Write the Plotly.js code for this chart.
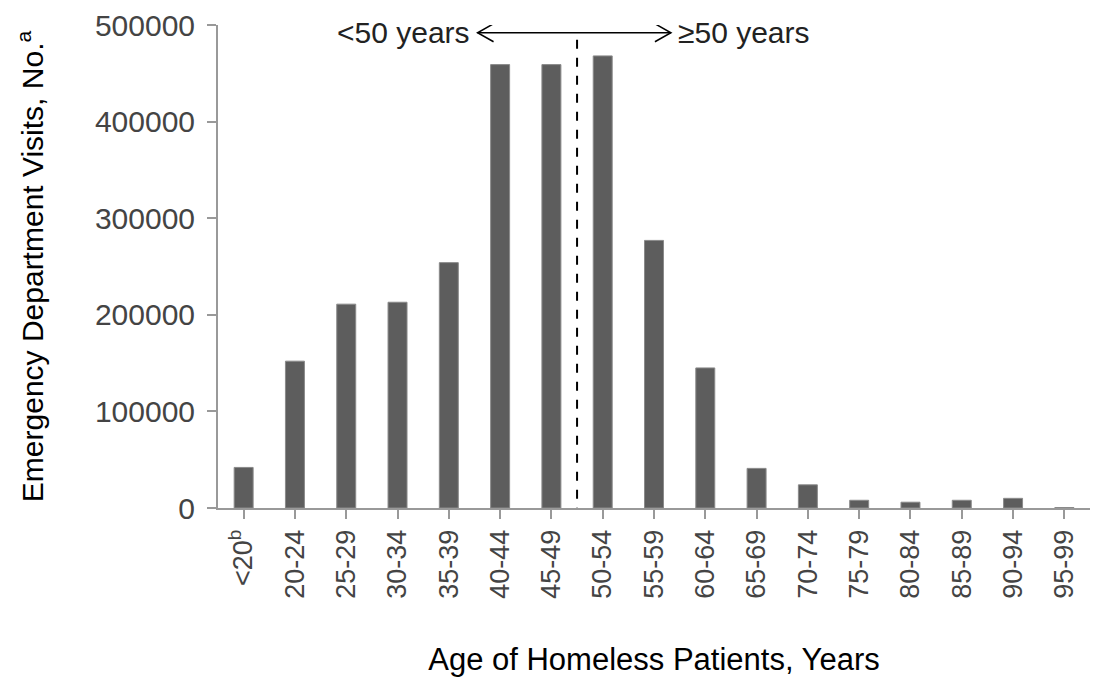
<!DOCTYPE html>
<html>
<head>
<meta charset="utf-8">
<script src="https://cdn.plot.ly/plotly-3.0.1.min.js"></script>
<style>html,body{margin:0;padding:0;background:#fff;}#chart{width:1093px;height:677px;}</style>
</head>
<body>
<div id="chart"></div>
<script>
const categories = ["<20", "20-24", "25-29", "30-34", "35-39", "40-44", "45-49", "50-54", "55-59", "60-64", "65-69", "70-74", "75-79", "80-84", "85-89", "90-94", "95-99"];
const tickLabels = ["<20<sup>b</sup>", "20-24", "25-29", "30-34", "35-39", "40-44", "45-49", "50-54", "55-59", "60-64", "65-69", "70-74", "75-79", "80-84", "85-89", "90-94", "95-99"];
const visits = [42000, 152000, 211000, 213000, 254000, 459000, 459000, 468000, 277000, 145000, 41000, 24000, 8000, 6000, 8000, 10000, 500];
const yTicks = [0, 100000, 200000, 300000, 400000, 500000];

const font = "Liberation Sans, Arial, sans-serif";
const splitIndex = 6.5;   // boundary between 45-49 and 50-54
const arrowY = 492000;
const arrowLeft = 4.56, arrowRight = 8.33;

const trace = {
  type: "bar",
  x: categories.map((c, i) => i),
  y: visits,
  marker: {color: "#5d5d5d", line: {color: "#8a8a8a", width: 1}},
  width: 0.37,
  hoverinfo: "x+y"
};

const layout = {
  width: 1093, height: 677,
  margin: {l: 218, r: 3, t: 25, b: 169},
  paper_bgcolor: "#fff", plot_bgcolor: "#fff",
  showlegend: false,
  font: {family: font, color: "#000"},
  xaxis: {
    range: [-0.5, 16.5],
    tickmode: "array",
    tickvals: categories.map((c, i) => i),
    ticktext: tickLabels,
    tickangle: -90,
    tickson: "boundaries",
    ticks: "outside", ticklen: 9, tickwidth: 2, tickcolor: "#999",
    showline: true, linecolor: "#999", linewidth: 2,
    showgrid: false, zeroline: false,
    tickfont: {family: font, size: 27, color: "#444"},
    title: {text: "Age of Homeless Patients, Years", font: {family: font, size: 31, color: "#000"}, standoff: 50}
  },
  yaxis: {
    range: [0, 500000],
    tickmode: "array",
    tickvals: yTicks,
    ticktext: yTicks.map(String),
    ticks: "outside", ticklen: 9, tickwidth: 2, tickcolor: "#999",
    showline: true, linecolor: "#999", linewidth: 2,
    showgrid: false, zeroline: false,
    tickfont: {family: font, size: 30, color: "#444"},
    ticklabelstandoff: 6,
    title: {text: "Emergency Department Visits, No.<sup>a</sup>", font: {family: font, size: 30, color: "#000"}, standoff: 42}
  },
  shapes: [
    {type: "line", xref: "x", yref: "y",
     x0: splitIndex, x1: splitIndex, y0: -9000, y1: arrowY,
     line: {color: "#000", width: 2, dash: "dash"}},
    {type: "line", xref: "x", yref: "y",
     x0: arrowLeft, x1: arrowRight, y0: arrowY, y1: arrowY,
     line: {color: "#000", width: 1.5}},
    {type: "path", xref: "x", yref: "y", xsizemode: "pixel", ysizemode: "pixel",
     xanchor: arrowLeft, yanchor: arrowY, path: "M 16 -9 L 0 0 L 16 9",
     line: {color: "#000", width: 1.5}},
    {type: "path", xref: "x", yref: "y", xsizemode: "pixel", ysizemode: "pixel",
     xanchor: arrowRight, yanchor: arrowY, path: "M -16 -9 L 0 0 L -16 9",
     line: {color: "#000", width: 1.5}}
  ],
  annotations: [
    {x: 4.45, y: arrowY, xref: "x", yref: "y", text: "<50 years", showarrow: false,
     xanchor: "right", yanchor: "middle", font: {family: font, size: 30, color: "#222"}},
    {x: 8.42, y: arrowY, xref: "x", yref: "y", text: "≥50 years", showarrow: false,
     xanchor: "left", yanchor: "middle", font: {family: font, size: 30, color: "#222"}}
  ]
};

Plotly.newPlot("chart", [trace], layout, {displayModeBar: false, staticPlot: true});
</script>
</body>
</html>
